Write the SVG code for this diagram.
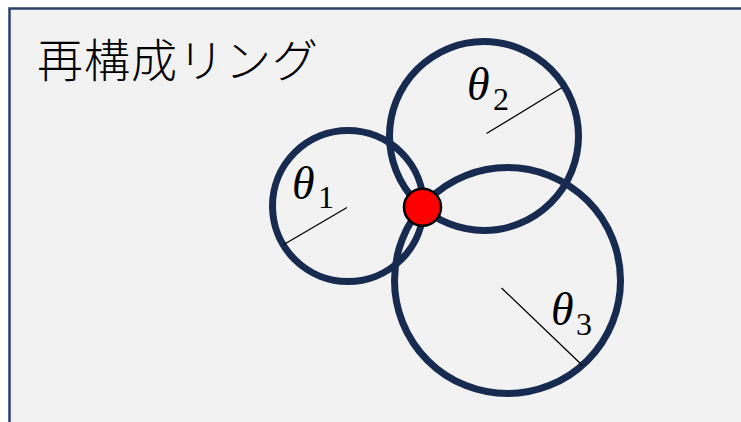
<svg xmlns="http://www.w3.org/2000/svg" width="741" height="422" viewBox="0 0 741 422">
<style>
.ring{fill:none;stroke:#172b50;stroke-width:7}
.rad{stroke:#000;stroke-width:1.3}
.th{font-family:"Liberation Serif","DejaVu Serif",serif;font-style:italic;fill:#000;font-size:46px}
.sub{font-family:"Liberation Serif","DejaVu Serif",serif;fill:#000;font-size:32px}
</style>
<rect x="0" y="0" width="741" height="422" fill="#ffffff"/>
<rect id="frame" x="9.5" y="8.5" width="740" height="420" fill="#f2f2f2" stroke="#2b4169" stroke-width="2.5"/>
<text id="title" x="37" y="77" font-family="'Noto Sans CJK JP','Noto Sans CJK SC',sans-serif" font-weight="300" font-size="46" letter-spacing="1" fill="#000">再構成リング</text>
<g id="ring1">
<circle class="ring" cx="348" cy="206" r="75.5"/>
<line class="rad" x1="283" y1="245" x2="347" y2="207.5"/>
<text class="th" x="292" y="199">θ</text><text class="sub" x="318" y="208">1</text>
</g>
<g id="ring2">
<circle class="ring" cx="484" cy="136" r="94.5"/>
<line class="rad" x1="486.5" y1="133.5" x2="562" y2="87.5"/>
<text class="th" x="467" y="100">θ</text><text class="sub" x="493" y="110">2</text>
</g>
<g id="ring3">
<circle class="ring" cx="507.5" cy="280.5" r="113"/>
<line class="rad" x1="501.5" y1="288" x2="582.5" y2="365.5"/>
<text class="th" x="551" y="325">θ</text><text class="sub" x="576" y="335">3</text>
</g>
<g id="point">
<circle cx="422.5" cy="207.3" r="18.5" fill="#ff0000" stroke="#000" stroke-width="2.5"/>
</g>
</svg>
